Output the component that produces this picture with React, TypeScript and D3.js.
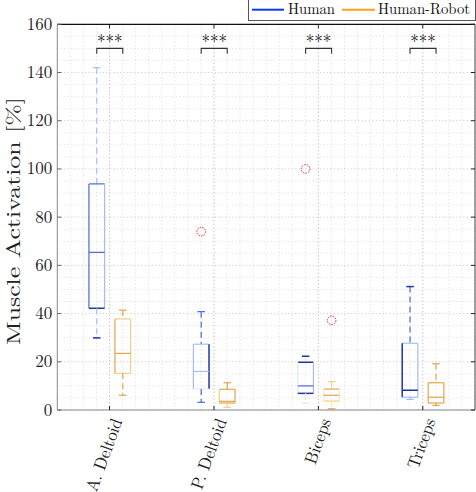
import React from "react";
import * as d3 from "d3";

const categories = ["A. Deltoid", "P. Deltoid", "Biceps", "Triceps"];
const seriesNames = ["Human", "Human-Robot"];

const humanLow = [29.9, 3.2, 2.8, 4.4];
const humanQ1 = [42.2, 8.7, 6.9, 5.3];
const humanMedian = [65.4, 16.0, 10.0, 8.2];
const humanQ3 = [93.8, 27.3, 19.8, 27.7];
const humanHigh = [142, 40.8, 22.3, 51.2];
const humanOutliers = [[], [74], [100], []];

const robotLow = [6.1, 1.1, 0.5, 1.9];
const robotQ1 = [15.2, 2.9, 3.7, 2.9];
const robotMedian = [23.5, 3.6, 6.1, 5.3];
const robotQ3 = [37.8, 8.6, 8.7, 11.3];
const robotHigh = [41.4, 11.3, 11.8, 19.2];
const robotOutliers = [[], [], [37.2], []];

const significance = ["***", "***", "***", "***"];
const sigLevel = 150;

const yTicks = [0, 20, 40, 60, 80, 100, 120, 140, 160];

// layout: rendered lengths of the rotated category labels (px)
const xLabelLength = [76, 74, 47, 52];

// rendering tones per segment: whiskerHi, capHi, top, left, right, median, bottom, whiskerLo, capLo
const humanTones = ["llmmlmdld", "mmlldlfmm", "fddflmdff", "mdldldlll"];
const robotTones = ["mmlmlmlmm", "mmmlmmmll", "llmffmlfm", "mmmmmmmmm"];
const humanPalette: Record<string, string> = { d: "#1f35a5", m: "#4a68d8", l: "#a8bcf4", f: "#dfe9fc" };
const robotPalette: Record<string, string> = { d: "#cf8a22", m: "#e2a54a", l: "#f3cf80", f: "#fbe9bd" };

const W = 476;
const H = 492;
const left = 57.3;
const right = 475;
const top = 24.3;
const bottom = 410;
const FONT = "'Latin Modern Roman', 'Liberation Serif', serif";

export default function App() {
  const x = d3.scaleLinear().domain([0.5, 4.5]).range([left, right]);
  const y = d3.scaleLinear().domain([0, 160]).range([bottom, top]);

  const minorY = d3.range(0, 161, 5).filter((v) => v % 20 !== 0);
  const minorX = d3.range(0, 33).map((k) => 0.5 + k / 8);

  const series = [
    { low: humanLow, q1: humanQ1, med: humanMedian, q3: humanQ3, high: humanHigh, out: humanOutliers, tones: humanTones, pal: humanPalette, off: -0.122 },
    { low: robotLow, q1: robotQ1, med: robotMedian, q3: robotQ3, high: robotHigh, out: robotOutliers, tones: robotTones, pal: robotPalette, off: 0.127 },
  ];
  const boxW = 0.15;
  const capW = 0.072;
  const txt = { fontFamily: FONT } as React.CSSProperties;

  return (
    <svg width={W} height={H} style={{ position: "absolute", left: 0, top: 0, background: "#fff" }}>
      <rect x={0} y={0} width={W} height={H} fill="#fff" />
      {/* grid */}
      {minorX.map((v, i) => (
        <line key={"gx" + i} x1={x(v)} x2={x(v)} y1={top} y2={bottom} stroke="#d4d4d4" strokeWidth={0.8} strokeDasharray="1,2.5" />
      ))}
      {minorY.map((v, i) => (
        <line key={"gy" + i} x1={left} x2={right} y1={y(v)} y2={y(v)} stroke="#d4d4d4" strokeWidth={0.8} strokeDasharray="1,2.5" />
      ))}
      {yTicks.map((v, i) => (
        <line key={"gym" + i} x1={left} x2={right} y1={y(v)} y2={y(v)} stroke="#bdbdbd" strokeWidth={0.9} strokeDasharray="1,2.5" />
      ))}
      {categories.map((c, i) => (
        <line key={"gxm" + i} x1={x(i + 1)} x2={x(i + 1)} y1={top} y2={bottom} stroke="#bdbdbd" strokeWidth={0.9} strokeDasharray="1,2.5" />
      ))}

      {/* boxes */}
      {series.map((s, si) =>
        categories.map((c, ci) => {
          const cx = x(ci + 1 + s.off);
          const bl = x(ci + 1 + s.off - boxW / 2);
          const br = x(ci + 1 + s.off + boxW / 2);
          const cl = x(ci + 1 + s.off - capW / 2);
          const cr = x(ci + 1 + s.off + capW / 2);
          const t = s.tones[ci];
          const col = (k: number) => s.pal[t[k]];
          const sw = (k: number) => (t[k] === "d" ? 1.5 : 1.2);
          return (
            <g key={"b" + si + "-" + ci}>
              <line x1={cx} x2={cx} y1={y(s.high[ci])} y2={y(s.q3[ci])} stroke={col(0)} strokeWidth={sw(0)} strokeDasharray="6,4" />
              <line x1={cl} x2={cr} y1={y(s.high[ci])} y2={y(s.high[ci])} stroke={col(1)} strokeWidth={sw(1)} />
              <line x1={bl} x2={br} y1={y(s.q3[ci])} y2={y(s.q3[ci])} stroke={col(2)} strokeWidth={sw(2)} />
              <line x1={bl} x2={bl} y1={y(s.q3[ci])} y2={y(s.q1[ci])} stroke={col(3)} strokeWidth={sw(3)} />
              <line x1={br} x2={br} y1={y(s.q3[ci])} y2={y(s.q1[ci])} stroke={col(4)} strokeWidth={sw(4)} />
              <line x1={bl} x2={br} y1={y(s.med[ci])} y2={y(s.med[ci])} stroke={col(5)} strokeWidth={sw(5)} />
              <line x1={bl} x2={br} y1={y(s.q1[ci])} y2={y(s.q1[ci])} stroke={col(6)} strokeWidth={sw(6)} />
              <line x1={cx} x2={cx} y1={y(s.q1[ci])} y2={y(s.low[ci])} stroke={col(7)} strokeWidth={sw(7)} strokeDasharray="6,4" />
              <line x1={cl} x2={cr} y1={y(s.low[ci])} y2={y(s.low[ci])} stroke={col(8)} strokeWidth={sw(8)} />
              {s.out[ci].map((o, oi) => (
                <circle key={oi} cx={cx} cy={y(o)} r={4.3} fill="none" stroke="#e03a3a" strokeWidth={1} strokeDasharray="1.6,1" />
              ))}
            </g>
          );
        })
      )}

      {/* significance */}
      {categories.map((c, i) => {
        const x1 = x(i + 1 + series[0].off);
        const x2 = x(i + 1 + series[1].off);
        const yy = y(sigLevel);
        return (
          <g key={"s" + i}>
            <path d={`M${x1},${y(sigLevel - 2.2)}V${yy}H${x2}V${y(sigLevel - 2.2)}`} fill="none" stroke="#333" strokeWidth={1.1} />
            <text x={(x1 + x2) / 2} y={yy - 1} textAnchor="middle" fontSize={17} fill="#111" style={txt}>
              {significance[i]}
            </text>
          </g>
        );
      })}

      {/* axes */}
      <line x1={left} x2={right} y1={top} y2={top} stroke="#111" strokeWidth={1.3} />
      <line x1={right} x2={right} y1={top} y2={bottom} stroke="#444" strokeWidth={1} />
      <line x1={left} x2={left} y1={top} y2={bottom} stroke="#8a8a8a" strokeWidth={1} />
      <line x1={left} x2={right} y1={bottom} y2={bottom} stroke="#8a8a8a" strokeWidth={1.2} />
      {yTicks.map((v, i) => (
        <g key={"yt" + i}>
          <line x1={left} x2={left + 4} y1={y(v)} y2={y(v)} stroke="#666" />
          <line x1={right} x2={right - 4} y1={y(v)} y2={y(v)} stroke="#222" />
          <text x={left - 5} y={y(v) + 5.5} textAnchor="end" fontSize={17} fill="#222" style={txt}>
            {v}
          </text>
        </g>
      ))}
      {categories.map((c, i) => (
        <g key={"xt" + i}>
          <line x1={x(i + 1)} x2={x(i + 1)} y1={bottom} y2={bottom - 4} stroke="#222" />
          <line x1={x(i + 1)} x2={x(i + 1)} y1={top} y2={top + 4} stroke="#222" />
          <text
            transform={`translate(${x(i + 1) + 13},${421}) rotate(-70)`}
            textAnchor="end"
            fontSize={17.5}
            fill="#222"
            textLength={xLabelLength[i]}
            lengthAdjust="spacingAndGlyphs"
            style={txt}
          >
            {c}
          </text>
        </g>
      ))}
      <text transform={`translate(${20},${221}) rotate(-90)`} textAnchor="middle" fontSize={19} fill="#222" textLength={248} lengthAdjust="spacingAndGlyphs" style={txt}>
        Muscle Activation [%]
      </text>

      {/* legend */}
      <rect x={248.5} y={-2} width={227} height={22.5} fill="#fff" stroke="#555" strokeWidth={1} />
      <line x1={252} x2={284} y1={9.7} y2={9.7} stroke="#0a3cf0" strokeWidth={2} />
      <text x={288} y={14} fontSize={15.5} fill="#111" textLength={47} lengthAdjust="spacingAndGlyphs" style={txt}>
        {seriesNames[0]}
      </text>
      <line x1={342} x2={375} y1={9.7} y2={9.7} stroke="#f9a21b" strokeWidth={2} />
      <text x={378} y={14} fontSize={15.5} fill="#111" textLength={92} lengthAdjust="spacingAndGlyphs" style={txt}>
        {seriesNames[1]}
      </text>
    </svg>
  );
}
